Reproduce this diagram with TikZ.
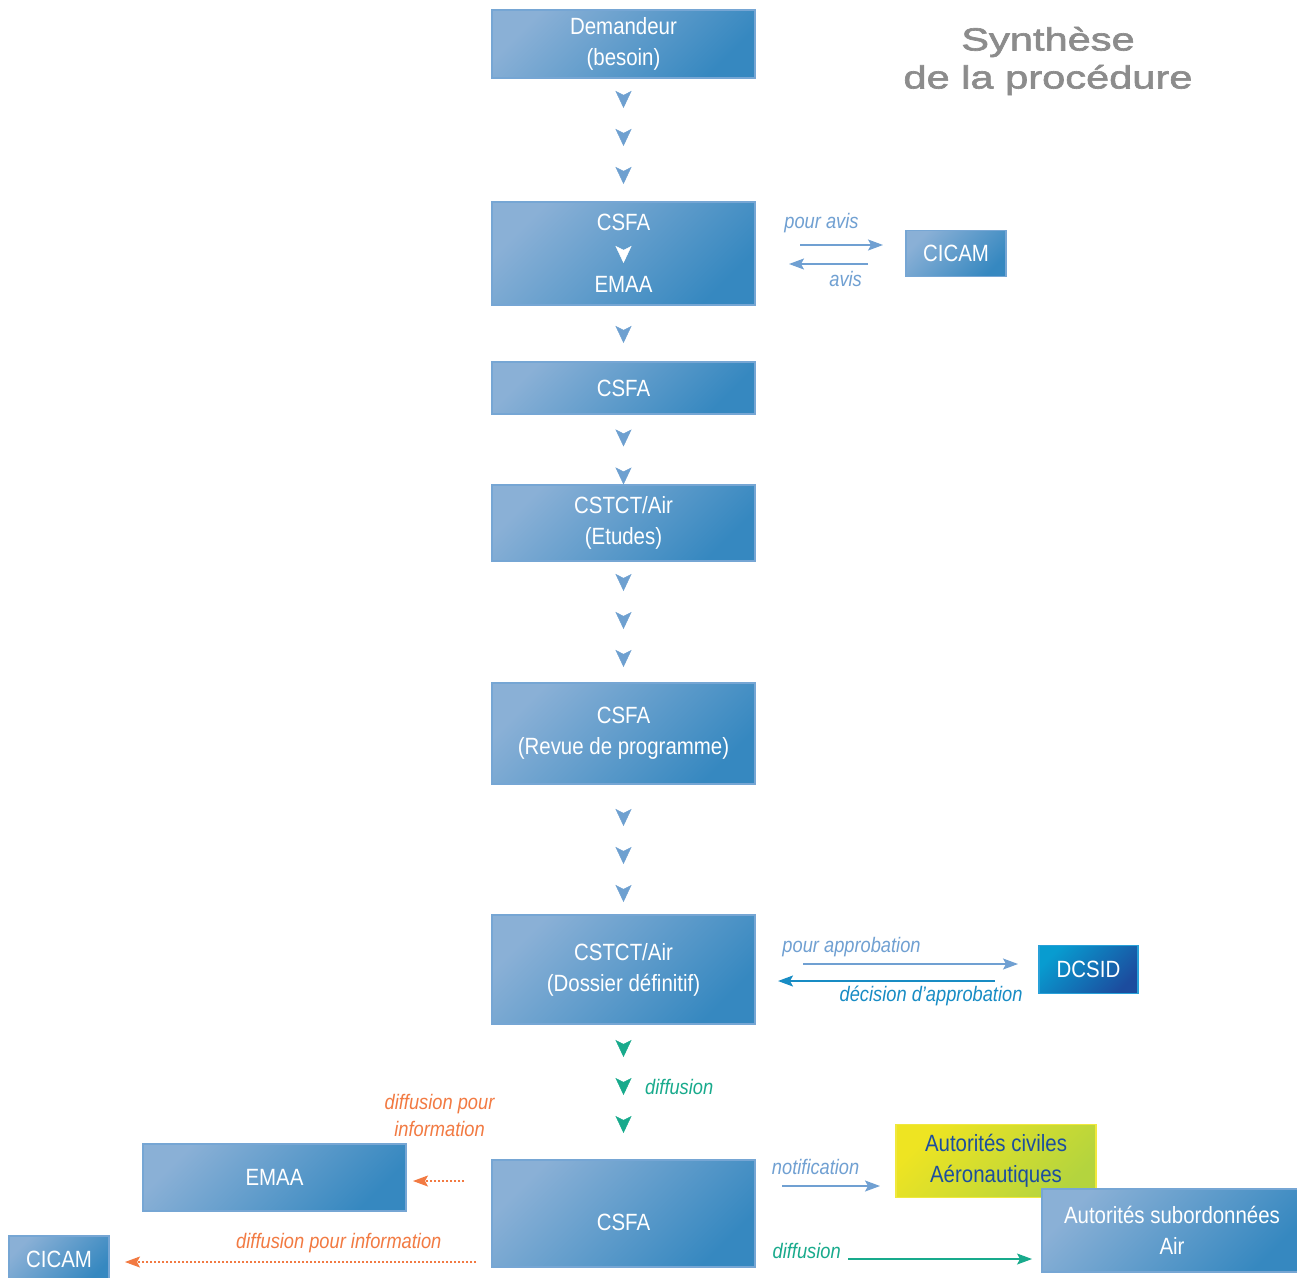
\documentclass[tikz,border=0pt]{standalone}
\usepackage{fontspec}
\setmainfont[FakeStretch=0.87]{Liberation Sans}
\newfontfamily\titlefont[FakeStretch=1.3, FakeBold=2]{Liberation Sans}
\usetikzlibrary{arrows.meta, positioning, decorations.markings}

\definecolor{boxA}{RGB}{138,176,214}
\definecolor{boxB}{RGB}{54,136,192}
\definecolor{boxline}{RGB}{118,166,212}
\definecolor{chevblue}{RGB}{110,160,208}
\definecolor{lblue}{RGB}{112,160,210}
\definecolor{dblue}{RGB}{24,140,196}
\definecolor{dcsA}{RGB}{8,156,208}
\definecolor{dcsB}{RGB}{28,76,158}
\definecolor{dcsline}{RGB}{40,160,216}
\definecolor{civA}{RGB}{238,228,34}
\definecolor{civB}{RGB}{180,212,62}
\definecolor{civline}{RGB}{240,232,60}
\definecolor{civtext}{RGB}{28,78,158}
\definecolor{diffgreen}{RGB}{24,170,140}
\definecolor{infoorange}{RGB}{242,122,66}
\definecolor{titlegray}{RGB}{140,140,140}

\begin{document}
\begin{tikzpicture}[
  x=1pt, y=-1pt,
  box/.style={draw=boxline, line width=1.5pt, top color=boxA, bottom color=boxB, shading angle=45,
    minimum width=263pt, inner sep=0pt, outer sep=0pt, align=center, text=white,
    font=\fontsize{23.5}{31}\selectfont},
  dcsbox/.style={box, draw=dcsline, top color=dcsA, bottom color=dcsB, shading angle=45},
  civbox/.style={box, draw=civline, top color=civA, bottom color=civB, shading angle=45, text=civtext},
  chevs/.style n args={3}{decoration={markings, mark=between positions #1 and #2 step 38pt with {\arrow[color=#3]{Stealth[length=17pt, width=16pt, inset=4pt]}}}, decorate, transform canvas={xshift=2.5pt}},
  arrow/.style={-{Stealth[length=15pt, width=11pt, inset=3pt]}, line width=1.3pt},
  info/.style={-{Stealth[length=15pt, width=11pt, inset=3pt]}, line width=1.1pt, dash pattern=on 2pt off 2pt, infoorange},
  lab/.style={font=\fontsize{21}{27}\selectfont\itshape, inner sep=1pt, align=center}
]
\path[use as bounding box, fill=white] (0,0) rectangle (1297,1277);

% Title
\node[font=\titlefont\fontsize{32}{38}\selectfont, text=titlegray, align=center] (Title) at (1048,61) {Synthèse\\de la procédure};

% Main column
\node[box, minimum height=68pt] (Dem) at (623.5,44) {Demandeur\\(besoin)};
\node[box, minimum height=103pt, below=124pt of Dem] (CsfaEmaa) {CSFA\\\mbox{}\\EMAA};
\node[box, minimum height=52pt, below=57pt of CsfaEmaa] (Csfa) {CSFA};
\node[box, minimum height=76pt, below=71pt of Csfa] (CstctEtu) {CSTCT/Air\\(Etudes)};
\node[box, minimum height=101pt, below=122pt of CstctEtu] (CsfaRev) {CSFA\\(Revue de programme)};
\node[box, minimum height=109pt, below=131pt of CsfaRev] (CstctDos) {CSTCT/Air\\(Dossier définitif)};
\node[box, minimum height=107pt, text height=34pt, below=136pt of CstctDos] (CsfaDif) {CSFA};

% Side boxes
\node[box, minimum width=100pt, minimum height=46pt, right=151pt of CsfaEmaa] (Cicam) {CICAM};
\node[dcsbox, minimum width=99pt, minimum height=48pt, right=284pt of CstctDos] (Dcsid) {DCSID};
\node[civbox, minimum width=200pt, minimum height=73pt] (AutCiv) at (996,1161) {Autorités civiles\\Aéronautiques};
\node[box, minimum width=260pt, minimum height=83pt] (AutSub) at (1172,1230.5) {Autorités subordonnées\\Air};
\node[box, minimum height=67pt] (EmaaInf) at (274.5,1177.5) {EMAA};
\node[box, minimum width=100pt, minimum height=46pt] (CicamInf) at (59,1259) {CICAM};

% Chevrons down the column
\path[chevs={30pt}{107pt}{chevblue}] (Dem) -- (CsfaEmaa);
\path[chevs={9.5pt}{10pt}{white}] (CsfaEmaa.center) -- (CsfaEmaa.south);
\path[chevs={38pt}{39pt}{chevblue}] (CsfaEmaa) -- (Csfa);
\path[chevs={32.5pt}{71pt}{chevblue}] (Csfa) -- (CstctEtu);
\path[chevs={30pt}{107pt}{chevblue}] (CstctEtu) -- (CsfaRev);
\path[chevs={42pt}{119pt}{chevblue}] (CsfaRev) -- (CstctDos);
\path[chevs={33pt}{110pt}{diffgreen}] (CstctDos) -- node[pos=0.46, right=18pt, lab, text=diffgreen] {diffusion} (CsfaDif);

% CICAM
\draw[arrow, lblue, shorten <=45pt, shorten >=23pt] ([yshift=8.5pt]CsfaEmaa.east) -- node[pos=0.44, yshift=22pt, lab] {pour avis} ([yshift=8.5pt]Cicam.west);
\draw[arrow, lblue, shorten <=38pt, shorten >=34pt] ([yshift=-10.5pt]Cicam.west) -- node[pos=0.40, yshift=-15pt, lab] {avis} ([yshift=-10.5pt]CsfaEmaa.east);

% DCSID
\draw[arrow, lblue, shorten <=48pt, shorten >=21pt] ([yshift=5.5pt]CstctDos.east) -- node[pos=0.34, yshift=17pt, lab] {pour approbation} ([yshift=5.5pt]Dcsid.west);
\draw[arrow, dblue, shorten <=44pt, shorten >=23pt] ([yshift=-11.5pt]Dcsid.west) -- node[pos=0.38, yshift=-15pt, lab] {décision d'approbation} ([yshift=-11.5pt]CstctDos.east);

% Autorites
\draw[arrow, lblue, shorten <=27pt, shorten >=16pt] ([yshift=27.5pt]CsfaDif.east) -- node[pos=0.43, yshift=19pt, lab] {notification} ([yshift=11.5pt]AutCiv.south west);
\draw[arrow, diffgreen, line width=1.1pt, shorten <=93pt, shorten >=10pt] ([yshift=-45.5pt]CsfaDif.east) -- node[pos=0.18, yshift=8pt, lab] {diffusion} ([yshift=-28.5pt]AutSub.west);

% diffusion pour information
\draw[info, shorten <=28pt, shorten >=7pt] ([yshift=32.5pt]CsfaDif.west) -- node[pos=0.61, yshift=65.5pt, lab] {diffusion pour\\information} ([yshift=-3.5pt]EmaaInf.east);
\draw[info, shorten <=16pt, shorten >=16pt] ([yshift=-48.5pt]CsfaDif.west) -- node[pos=0.40, yshift=19pt, lab] {diffusion pour information} ([yshift=-3pt]CicamInf.east);

\end{tikzpicture}
\end{document}
